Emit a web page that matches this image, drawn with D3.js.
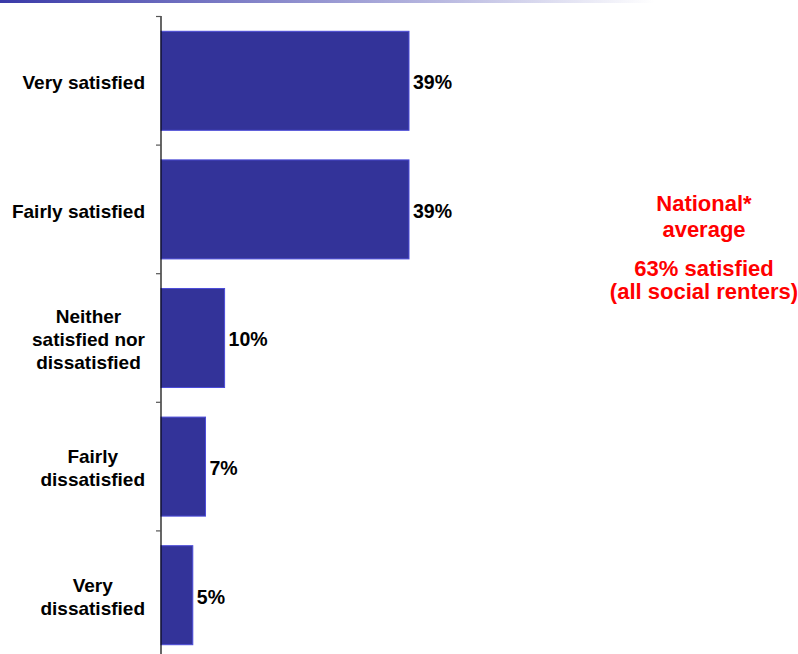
<!DOCTYPE html>
<html>
<head>
<meta charset="utf-8">
<script src="https://cdn.jsdelivr.net/npm/d3@7"></script>
<style>
  html, body { margin: 0; padding: 0; background: #fff; }
  svg { display: block; }
  text { font-family: "Liberation Sans", Arial, sans-serif; font-weight: bold; }
</style>
</head>
<body>
<svg id="chart" width="798" height="654"></svg>
<script>
// Satisfaction responses (percent of respondents)
const categories = [
  ["Very satisfied"],
  ["Fairly satisfied"],
  ["Neither", "satisfied nor", "dissatisfied"],
  ["Fairly", "dissatisfied"],
  ["Very", "dissatisfied"]
];
const values = [39, 39, 10, 7, 5];
const valueLabels = ["39%", "39%", "10%", "7%", "5%"];
const noteLines = ["National*", "average", "63% satisfied", "(all social renters)"];

const svg = d3.select("#chart");
const W = 798, H = 654;

// Header strip fading from blue to white
const defs = svg.append("defs");
const grad = defs.append("linearGradient").attr("id", "hdr").attr("x1", "0").attr("x2", "1");
grad.append("stop").attr("offset", "0%").attr("stop-color", "#3a3aa8");
grad.append("stop").attr("offset", "55%").attr("stop-color", "#b8b8e0");
grad.append("stop").attr("offset", "82%").attr("stop-color", "#ffffff");
svg.append("rect").attr("x", 0).attr("y", 0).attr("width", W).attr("height", 3).attr("fill", "url(#hdr)");

const keys = categories.map((c, i) => "c" + i);
const axisX = 161;
const band = d3.scaleBand().domain(keys).range([16.5, 659.5]).padding(0);
const x = d3.scaleLinear().domain([0, 39]).range([axisX, 409]);
const step = band.step();
const inset = step * 0.115, barH = step * 0.77;

// Bars
svg.selectAll("rect.bar").data(values).join("rect")
  .attr("class", "bar")
  .attr("x", x(0))
  .attr("y", (d, i) => band(keys[i]) + inset)
  .attr("width", d => x(d) - x(0))
  .attr("height", barH)
  .attr("fill", "#333399")
  .attr("stroke", "#4c4cd8")
  .attr("stroke-width", 1);

// Value labels
svg.selectAll("text.val").data(values).join("text")
  .attr("class", "val")
  .attr("x", d => x(d) + 4)
  .attr("y", (d, i) => band(keys[i]) + step / 2 + 1.5)
  .attr("dy", "0.35em")
  .attr("font-size", 19.5)
  .attr("fill", "#000")
  .text((d, i) => valueLabels[i]);

// Axis line and ticks at band boundaries
svg.append("line").attr("x1", axisX).attr("x2", axisX).attr("y1", 16).attr("y2", H)
  .attr("stroke", "#000").attr("stroke-width", 1.2);
svg.selectAll("line.tick").data(keys).join("line")
  .attr("class", "tick")
  .attr("x1", axisX - 5).attr("x2", axisX)
  .attr("y1", k => band(k)).attr("y2", k => band(k))
  .attr("stroke", "#555").attr("stroke-width", 1.2);

// Category labels: each block right-aligned to the axis gap, lines centred within the block
const lineH = 23, labelRight = 145;
categories.forEach((lines, i) => {
  const cy = band(keys[i]) + step / 2 + 1.5;
  const t = svg.append("text")
    .attr("text-anchor", "middle")
    .attr("font-size", 19)
    .attr("fill", "#000");
  const spans = lines.map((ln, j) => t.append("tspan")
    .attr("y", cy + (j - (lines.length - 1) / 2) * lineH)
    .attr("dy", "0.35em")
    .text(ln));
  const widest = d3.max(spans, s => s.node().getComputedTextLength());
  spans.forEach(s => s.attr("x", labelRight - widest / 2));
});

// National average note
const noteY = [203, 229, 268, 291];
svg.selectAll("text.note").data(noteLines).join("text")
  .attr("class", "note")
  .attr("x", 704)
  .attr("y", (d, i) => noteY[i])
  .attr("dy", "0.35em")
  .attr("text-anchor", "middle")
  .attr("font-size", 22)
  .attr("fill", "#ff0000")
  .text(d => d);
</script>
</body>
</html>
